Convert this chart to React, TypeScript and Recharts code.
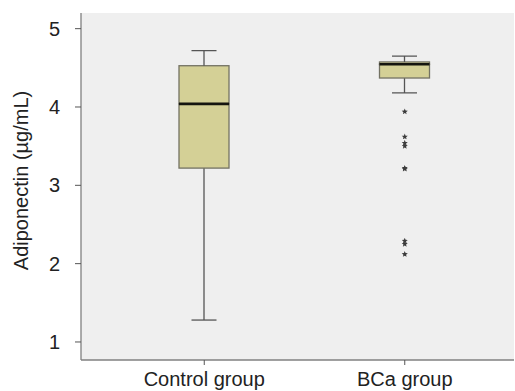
import React from 'react';
import { ComposedChart, Bar, Scatter, XAxis, YAxis, CartesianGrid } from 'recharts';

// box plot stats
const groups = ['Control group', 'BCa group'];
const mins = [1.28, 4.18];
const q1s = [3.22, 4.37];
const medians = [4.04, 4.545];
const q3s = [4.527, 4.575];
const maxs = [4.72, 4.65];
const bcaOutliers = [3.94, 3.62, 3.54, 3.5, 3.22, 3.21, 2.29, 2.25, 2.12];
const yTicks = [1, 2, 3, 4, 5];
const yDomain = [0.77, 5.2];

const data = groups.map((g, i) => ({
    group: g,
    base: mins[i],
    lowW: q1s[i] - mins[i],
    boxLow: medians[i] - q1s[i],
    boxHigh: q3s[i] - medians[i],
    highW: maxs[i] - q3s[i],
}));
const outliers = bcaOutliers.map((v) => ({ group: 'BCa group', value: v }));

const BOX_FILL = '#d4d096';
const BOX_STROKE = '#737263';
const LINE = '#555';
const FRAME = '#808080';
const CAP = 25;

const Nothing = () => null;

const LowWhisker = (p: any) => {
    const cx = p.x + p.width / 2;
    const bottom = p.y + p.height;
    return (
        <g>
            <line x1={cx} x2={cx} y1={p.y} y2={bottom} stroke={LINE} strokeWidth={1.3} />
            <line x1={cx - CAP / 2} x2={cx + CAP / 2} y1={bottom} y2={bottom} stroke={LINE} strokeWidth={1.3} />
        </g>
    );
};

const HighWhisker = (p: any) => {
    const cx = p.x + p.width / 2;
    return (
        <g>
            <line x1={cx} x2={cx} y1={p.y} y2={p.y + p.height} stroke={LINE} strokeWidth={1.3} />
            <line x1={cx - CAP / 2} x2={cx + CAP / 2} y1={p.y} y2={p.y} stroke={LINE} strokeWidth={1.3} />
        </g>
    );
};

const BoxLow = (p: any) => (
    <rect x={p.x} y={p.y} width={p.width} height={p.height} fill={BOX_FILL} stroke={BOX_STROKE} strokeWidth={1.3} />
);

// upper half of the box, median drawn on its bottom edge (painted last)
const BoxHigh = (p: any) => (
    <g>
        <rect x={p.x} y={p.y} width={p.width} height={p.height} fill={BOX_FILL} stroke={BOX_STROKE} strokeWidth={1.3} />
        <line x1={p.x} x2={p.x + p.width} y1={p.y + p.height} y2={p.y + p.height} stroke="#15150f" strokeWidth={2.6} />
    </g>
);

const Star = (p: any) => {
    const r = 3.2, ri = 1.4;
    const pts: string[] = [];
    for (let k = 0; k < 10; k++) {
        const a = -Math.PI / 2 + (k * Math.PI) / 5;
        const rr = k % 2 === 0 ? r : ri;
        pts.push(`${p.cx + rr * Math.cos(a)},${p.cy + rr * Math.sin(a)}`);
    }
    return <polygon points={pts.join(' ')} fill="#3c3c3c" />;
};

const YTitle = (props: any) => {
    const vb = props.viewBox;
    const x = vb.x + 21;
    const y = vb.y + vb.height / 2 - 6;
    return (
        <text x={x} y={y} transform={`rotate(-90, ${x}, ${y})`} textAnchor="middle" dominantBaseline="central" fontSize={20} fill="#222">
            Adiponectin (µg/mL)
        </text>
    );
};

export default function App() {
    return (
        <div style={{ position: 'absolute', left: 0, top: 0, fontFamily: '"Liberation Sans", Arial, sans-serif' }}>
            <ComposedChart width={515} height={391} data={data} margin={{ top: 13, right: 1, bottom: 0, left: 0 }}>
                <CartesianGrid fill="#efefef" horizontal={false} vertical={false} />
                <XAxis dataKey="group" type="category" allowDuplicatedCategory={false} height={31} padding={{ left: 23, right: 9 }}
                    axisLine={{ stroke: FRAME, strokeWidth: 1.3 }} tickSize={5} tickMargin={7} tickLine={{ stroke: '#555' }}
                    tick={{ fill: '#222', fontSize: 20 }} />
                <XAxis xAxisId="top" orientation="top" dataKey="group" type="category" allowDuplicatedCategory={false} height={0}
                    axisLine={{ stroke: FRAME, strokeWidth: 1.3 }} tick={false} tickLine={false} />
                <YAxis type="number" domain={yDomain} ticks={yTicks} allowDataOverflow width={81}
                    axisLine={{ stroke: FRAME, strokeWidth: 1.3 }} tickSize={6} tickMargin={15} tickLine={{ stroke: '#555' }}
                    tick={{ fill: '#222', fontSize: 20 }} label={<YTitle />} />
                <YAxis yAxisId="right" orientation="right" type="number" domain={yDomain} allowDataOverflow width={0}
                    axisLine={{ stroke: FRAME, strokeWidth: 1.3 }} tick={false} tickLine={false} />
                <Bar dataKey="base" stackId="b" barSize={50} shape={<Nothing />} isAnimationActive={false} />
                <Bar dataKey="lowW" stackId="b" barSize={50} shape={<LowWhisker />} isAnimationActive={false} />
                <Bar dataKey="boxLow" stackId="b" barSize={50} shape={<BoxLow />} isAnimationActive={false} />
                <Bar dataKey="boxHigh" stackId="b" barSize={50} shape={<BoxHigh />} isAnimationActive={false} />
                <Bar dataKey="highW" stackId="b" barSize={50} shape={<HighWhisker />} isAnimationActive={false} />
                <Scatter data={outliers} dataKey="value" shape={<Star />} isAnimationActive={false} />
            </ComposedChart>
        </div>
    );
}
